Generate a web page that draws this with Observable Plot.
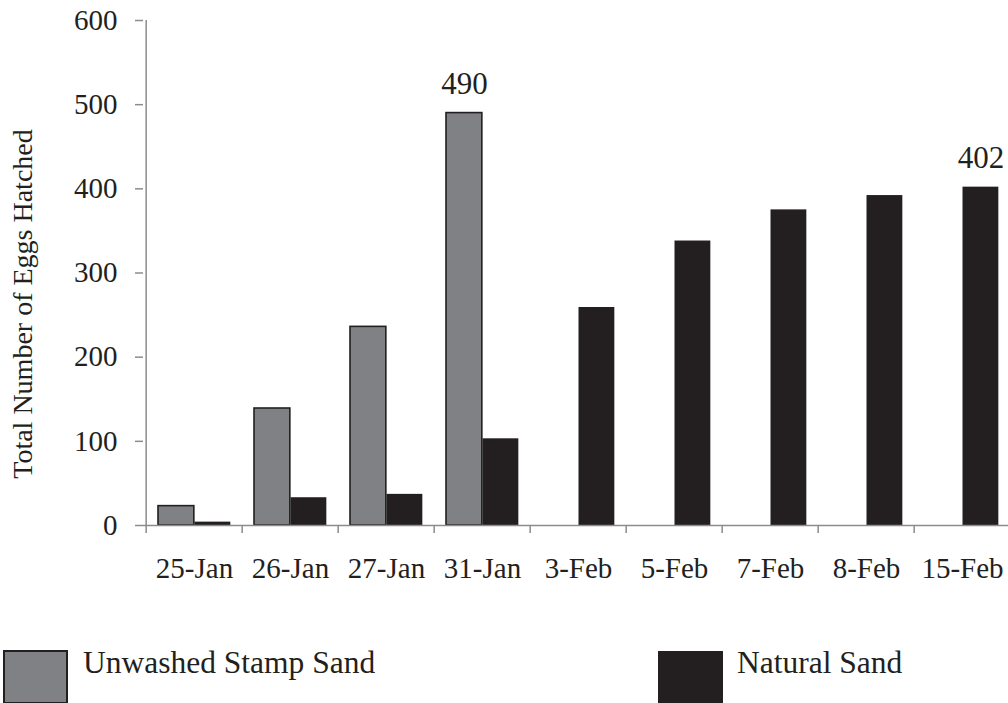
<!DOCTYPE html>
<html>
<head>
<meta charset="utf-8">
<script src="https://cdn.jsdelivr.net/npm/d3@7"></script>
<script src="https://cdn.jsdelivr.net/npm/@observablehq/plot@0.6"></script>
<style>
  html, body { margin: 0; padding: 0; background: #fff; }
  #wrap { position: relative; width: 1008px; height: 703px; overflow: hidden; font-family: "Liberation Serif", "Times New Roman", serif; color: #231f20; }
  .sw { position: absolute; box-sizing: border-box; }
  .lt { position: absolute; font-size: 31.5px; line-height: 1; white-space: nowrap; }
</style>
</head>
<body>
<div id="wrap"></div>
<script>
const dates = ["25-Jan", "26-Jan", "27-Jan", "31-Jan", "3-Feb", "5-Feb", "7-Feb", "8-Feb", "15-Feb"];
const unwashed = [23, 139, 236, 490, null, null, null, null, null];
const natural = [4, 33, 37, 103, 259, 338, 375, 392, 402];
const seriesNames = ["Unwashed Stamp Sand", "Natural Sand"];
const seriesColors = ["#808184", "#231f20"];
const yTicks = [0, 100, 200, 300, 400, 500, 600];
const annotations = [
  {date: "31-Jan", series: "Unwashed Stamp Sand", value: 490},
  {date: "15-Feb", series: "Natural Sand", value: 402}
];

const rows = [];
dates.forEach((d, i) => {
  if (unwashed[i] != null) rows.push({date: d, series: seriesNames[0], value: unwashed[i]});
  if (natural[i] != null) rows.push({date: d, series: seriesNames[1], value: natural[i]});
});

const step = 870 / dates.length;
const half = step / 2;

const chart = Plot.plot({
  width: 1008,
  height: 640,
  marginLeft: 143,
  marginRight: 0,
  marginTop: 20,
  marginBottom: 115,
  style: {fontFamily: "'Liberation Serif', 'Times New Roman', serif", fontSize: "29px", color: "#231f20", background: "#fff"},
  x: {domain: dates, range: [143, 1013], padding: 0},
  y: {domain: [0, 600]},
  color: {domain: seriesNames, range: seriesColors},
  marks: [
    Plot.barY(rows.filter(r => r.series === seriesNames[0]), {
      x: "date", y: "value", fill: "series", stroke: "#231f20", strokeWidth: 1.6,
      insetLeft: 12, insetRight: step - 48.5
    }),
    Plot.barY(rows.filter(r => r.series === seriesNames[1]), {
      x: "date", y: "value", fill: "series",
      insetLeft: 48.5, insetRight: step - 85
    }),
    Plot.ruleY([0], {stroke: "#8c8c8c", strokeWidth: 1.5}),
    Plot.ruleX([dates[0]], {x: d => d, dx: -half, y1: -9.5, y2: 600, stroke: "#8c8c8c", strokeWidth: 1.5}),
    Plot.ruleX(dates.slice(1), {x: d => d, dx: -half, y1: -9.5, y2: 0, stroke: "#8c8c8c", strokeWidth: 1.5}),
    Plot.axisY({ticks: yTicks, tickSize: 8, tickPadding: 18, stroke: "#8c8c8c", strokeWidth: 1.5, fill: "#231f20", label: null, tickFormat: d => String(d)}),
    Plot.axisX({tickSize: 0, tickPadding: 32, fill: "#231f20", label: null}),
    Plot.text(annotations.filter(a => a.series === seriesNames[0]), {
      x: "date", y: "value", text: d => String(d.value),
      dx: 30.25 - half, dy: -19, lineAnchor: "bottom", fontSize: 31, fill: "#231f20"
    }),
    Plot.text(annotations.filter(a => a.series === seriesNames[1]), {
      x: "date", y: "value", text: d => String(d.value),
      dx: 66.75 - half, dy: -19, lineAnchor: "bottom", fontSize: 31, fill: "#231f20"
    }),
    Plot.text(["Total Number of Eggs Hatched"], {
      frameAnchor: "left", rotate: -90, dx: -120, dy: 31, fontSize: 28, fill: "#231f20", textAnchor: "middle"
    })
  ]
});

const wrap = document.getElementById("wrap");
wrap.appendChild(chart);

// Legend (below the chart)
const legendItems = [
  {name: seriesNames[0], color: seriesColors[0], border: "2px solid #231f20", box: [3, 650], text: 83},
  {name: seriesNames[1], color: seriesColors[1], border: "none", box: [658, 651], text: 737}
];
legendItems.forEach(it => {
  const sw = document.createElement("div");
  sw.className = "sw";
  sw.style.left = it.box[0] + "px";
  sw.style.top = it.box[1] + "px";
  sw.style.width = "65px";
  sw.style.height = "54px";
  sw.style.background = it.color;
  sw.style.border = it.border;
  wrap.appendChild(sw);
  const t = document.createElement("div");
  t.className = "lt";
  t.style.left = it.text + "px";
  t.style.top = "647px";
  t.textContent = it.name;
  wrap.appendChild(t);
});
</script>
</body>
</html>
